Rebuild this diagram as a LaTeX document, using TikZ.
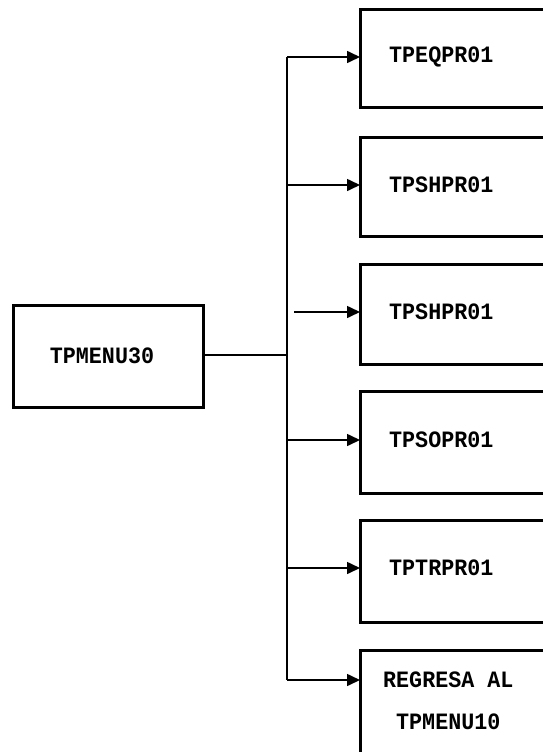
\documentclass[tikz,border=0pt]{standalone}
\usepackage{fontspec}
\setmonofont{Liberation Mono}
\usetikzlibrary{arrows.meta}
\begin{document}
\begin{tikzpicture}[x=1pt,y=-1pt,
  box/.style={draw,line width=3pt},
  lbl/.style={font=\ttfamily\bfseries\fontsize{21.7}{30}\selectfont,inner sep=0pt,anchor=west,yscale=1.08},
  conn/.style={line width=1.6pt},
  arr/.style={conn,-{Triangle[length=13pt,width=12pt]}}]
\useasboundingbox (0,0) rectangle (542,752);
% left box
\draw[box] (13,305) rectangle (203,407);
\node[lbl,anchor=center] (menu) at (102,356) {TPMENU30};
\coordinate (lr) at (203,355);
\coordinate (j) at (287,355);
\coordinate (vt) at (287,57);
\coordinate (vb) at (287,680);
% right boxes
\draw[box] (360,10) rectangle (560,107);
\draw[box] (360,137) rectangle (560,236);
\draw[box] (360,264) rectangle (560,364);
\draw[box] (360,391) rectangle (560,493);
\draw[box] (360,520) rectangle (560,622);
\draw[box] (360,650) rectangle (560,770);
\coordinate (b1) at (360,57);
\coordinate (b2) at (360,185);
\coordinate (b3) at (360,312);
\coordinate (b4) at (360,440);
\coordinate (b5) at (360,568);
\coordinate (b6) at (360,680);
\node[lbl] (t1) at (389,57) {TPEQPR01};
\node[lbl] (t2) at (389,185) {TPSHPR01};
\node[lbl] (t3) at (389,312) {TPSHPR01};
\node[lbl] (t4) at (389,440) {TPSOPR01};
\node[lbl] (t5) at (389,568) {TPTRPR01};
\node[lbl] (t6a) at (383,680) {REGRESA AL};
\node[lbl] (t6b) at (396,722) {TPMENU10};
% connectors
\draw[conn] (lr) -- (j);
\draw[conn] (vt) -- (vb);
\draw[arr] (vt) -- (b1);
\draw[arr] (287,185) -- (b2);
\draw[arr] (294,312) -- (b3);
\draw[arr] (287,440) -- (b4);
\draw[arr] (287,568) -- (b5);
\draw[arr] (vb) -- (b6);
\end{tikzpicture}
\end{document}
